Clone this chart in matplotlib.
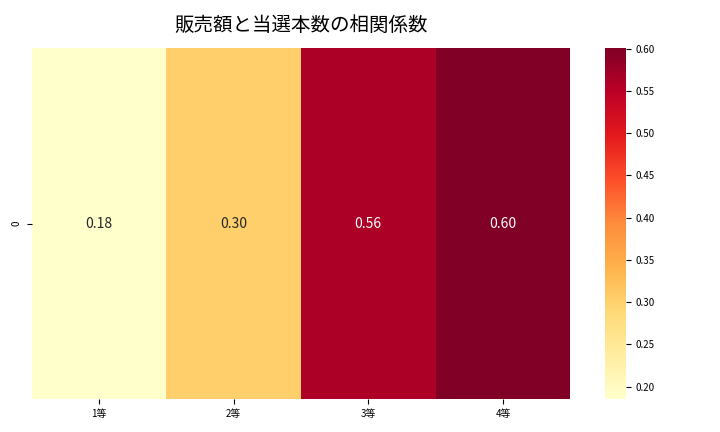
import numpy as np
import pandas as pd
import matplotlib
matplotlib.use("Agg")
import matplotlib.pyplot as plt
import seaborn as sns

plt.rcParams['font.family'] = ['Noto Sans CJK JP', 'DejaVu Sans']

# correlation between sales amount and number of winners per prize tier
prize_labels = ['1等', '2等', '3等', '4等']
corr_values = [0.185, 0.302, 0.562, 0.601]

df = pd.DataFrame([corr_values], columns=prize_labels)

fig = plt.figure(figsize=(7.2, 4.32), dpi=100)
ax = fig.add_axes([0.044, 0.076, 0.748, 0.813])
cax = fig.add_axes([0.840, 0.076, 0.029, 0.813])

sns.heatmap(df, annot=True, fmt='.2f', cmap='YlOrRd', ax=ax, cbar_ax=cax,
            annot_kws={'size': 10})
ax.set_title('販売額と当選本数の相関係数', fontsize=14, pad=12)
ax.tick_params(axis='both', labelsize=7)
cax.tick_params(labelsize=7)

fig.savefig('out.png', dpi=100)
